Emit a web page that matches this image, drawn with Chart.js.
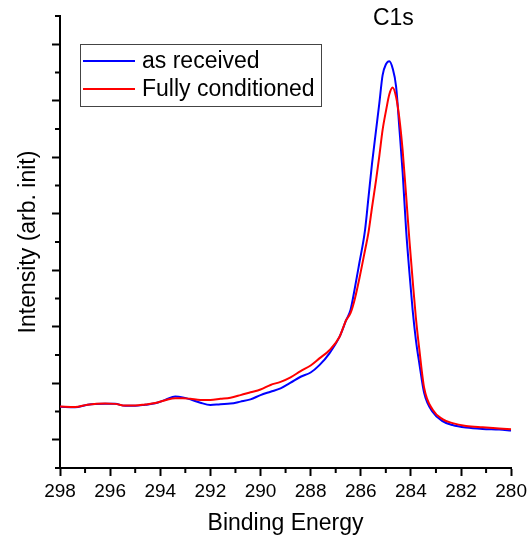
<!DOCTYPE html>
<html lang="en">
<head>
    <meta charset="UTF-8">
    <title>C1s</title>
    <script src="https://cdn.jsdelivr.net/npm/chart.js"></script>
    <style>
        body { margin: 0; background: #fff; }
    </style>
</head>
<body>
    <canvas id="xpsChart" width="531" height="542"></canvas>

    <script>
        // Binding energy (eV) and intensities
        const energy = [298.0, 297.4, 296.9, 296.2, 295.8, 295.4, 295.0, 294.6, 294.2, 293.8,
            293.4, 293.1, 292.8, 292.4, 292.0, 291.6, 291.2, 290.8, 290.4, 290.0,
            289.6, 289.2, 288.8, 288.4, 288.0, 287.65, 287.25, 286.85, 286.58, 286.41,
            286.25, 286.06, 285.83, 285.69, 285.55, 285.39, 285.26, 285.13, 284.99, 284.86,
            284.73, 284.59, 284.46, 284.33, 284.19, 284.06, 283.93, 283.80, 283.66, 283.47,
            283.13, 282.74, 282.34, 281.8, 281.14, 280.48, 280.0];
        const asReceived = [2.17, 2.15, 2.24, 2.27, 2.27, 2.20, 2.20, 2.24, 2.29, 2.41,
            2.53, 2.50, 2.43, 2.31, 2.23, 2.26, 2.28, 2.35, 2.43, 2.58,
            2.70, 2.82, 3.02, 3.23, 3.38, 3.64, 4.06, 4.64, 5.24, 5.59,
            6.30, 7.24, 8.42, 9.60, 10.78, 11.96, 12.91, 13.9, 14.3, 14.40,
            14.15, 13.5, 12.03, 10.47, 8.42, 6.93, 5.59, 4.53, 3.68, 2.65,
            1.98, 1.66, 1.52, 1.43, 1.38, 1.36, 1.33];
        const fullyConditioned = [2.18, 2.16, 2.24, 2.28, 2.27, 2.21, 2.21, 2.25, 2.30, 2.40,
            2.47, 2.47, 2.45, 2.41, 2.41, 2.45, 2.49, 2.58, 2.68, 2.78,
            2.94, 3.05, 3.21, 3.43, 3.63, 3.88, 4.17, 4.64, 5.24, 5.48,
            5.94, 6.69, 7.71, 8.35, 9.23, 10.19, 11.04, 11.96, 12.66, 13.23,
            13.47, 13.13, 12.38, 11.25, 9.64, 8.07, 6.65, 5.31, 4.17, 2.83,
            2.06, 1.73, 1.59, 1.49, 1.44, 1.40, 1.37];

        // tick positions
        const majorX = [298, 296, 294, 292, 290, 288, 286, 284, 282, 280];
        const minorX = [297, 295, 293, 291, 289, 287, 285, 283, 281];
        const majorY = [1, 3, 5, 7, 9, 11, 13, 15];
        const minorY = [0, 2, 4, 6, 8, 10, 12, 14, 16];

        const FONT = "'Liberation Sans', Arial, sans-serif";

        function toPoints(values) {
            return energy.map((e, i) => ({ x: e, y: values[i] }));
        }

        // minor ticks, boxed legend and the C1s label
        const extras = {
            id: 'extras',
            afterDraw(chart) {
                const { ctx, chartArea, scales } = chart;
                const x = scales.x, y = scales.y;
                ctx.save();
                ctx.strokeStyle = '#000';
                ctx.lineWidth = 2;
                ctx.beginPath();
                minorX.forEach(v => {
                    const px = x.getPixelForValue(v);
                    ctx.moveTo(px, chartArea.bottom);
                    ctx.lineTo(px, chartArea.bottom + 5);
                });
                minorY.forEach(v => {
                    const py = y.getPixelForValue(v);
                    ctx.moveTo(chartArea.left - 5, py);
                    ctx.lineTo(chartArea.left, py);
                });
                ctx.stroke();

                // legend
                const lx = chartArea.left + 20, ly = chartArea.top + 28;
                ctx.fillStyle = '#fff';
                ctx.fillRect(lx, ly, 241, 62);
                ctx.lineWidth = 1;
                ctx.strokeStyle = '#444';
                ctx.strokeRect(lx + 0.5, ly + 0.5, 241, 62);
                ctx.font = '23px ' + FONT;
                ctx.textBaseline = 'middle';
                ctx.textAlign = 'left';
                chart.data.datasets.forEach((ds, i) => {
                    const rowY = ly + 17 + i * 28;
                    ctx.strokeStyle = ds.borderColor;
                    ctx.lineWidth = 2;
                    ctx.beginPath();
                    ctx.moveTo(lx + 3, rowY);
                    ctx.lineTo(lx + 55, rowY);
                    ctx.stroke();
                    ctx.fillStyle = '#000';
                    ctx.fillText(ds.label, lx + 62, rowY + 1);
                });

                // peak label
                ctx.textAlign = 'center';
                ctx.fillText('C1s', x.getPixelForValue(284.7), 19);
                ctx.restore();
            }
        };

        const config = {
            type: 'line',
            data: {
                datasets: [{
                    label: 'as received',
                    data: toPoints(asReceived),
                    borderColor: '#0000ff',
                    borderWidth: 2,
                    order: 1
                }, {
                    label: 'Fully conditioned',
                    data: toPoints(fullyConditioned),
                    borderColor: '#ff0000',
                    borderWidth: 2,
                    order: 0
                }]
            },
            options: {
                responsive: false,
                animation: false,
                layout: { padding: { left: 0, right: 19, top: 16, bottom: 0 } },
                elements: {
                    point: { radius: 0 },
                    line: { cubicInterpolationMode: 'monotone', fill: false }
                },
                plugins: {
                    legend: { display: false },
                    tooltip: { enabled: false }
                },
                scales: {
                    x: {
                        type: 'linear',
                        reverse: true,
                        min: 280,
                        max: 298,
                        afterFit(scale) { scale.height = 74; },
                        afterBuildTicks(scale) { scale.ticks = majorX.map(v => ({ value: v })); },
                        border: { display: true, color: '#000', width: 2 },
                        grid: { drawOnChartArea: false, drawTicks: true, tickLength: 8, tickWidth: 2, tickColor: '#000' },
                        ticks: {
                            color: '#000',
                            font: { family: FONT, size: 19 },
                            padding: 4,
                            maxRotation: 0,
                            autoSkip: false,
                            callback: v => String(v)
                        },
                        title: {
                            display: true,
                            text: 'Binding Energy',
                            color: '#000',
                            font: { family: FONT, size: 23 },
                            padding: { top: 0, bottom: 5 }
                        }
                    },
                    y: {
                        type: 'linear',
                        min: 0,
                        max: 16,
                        afterFit(scale) { scale.width = 60; },
                        afterBuildTicks(scale) { scale.ticks = majorY.map(v => ({ value: v })); },
                        border: { display: true, color: '#000', width: 2 },
                        grid: { drawOnChartArea: false, drawTicks: true, tickLength: 8, tickWidth: 2, tickColor: '#000' },
                        ticks: { display: false },
                        title: {
                            display: true,
                            text: 'Intensity (arb. init)',
                            color: '#000',
                            font: { family: FONT, size: 23 },
                            padding: { top: 15, bottom: 0 }
                        }
                    }
                }
            },
            plugins: [extras]
        };

        window.onload = function() {
            const ctx = document.getElementById('xpsChart').getContext('2d');
            new Chart(ctx, config);
        };
    </script>
</body>
</html>
